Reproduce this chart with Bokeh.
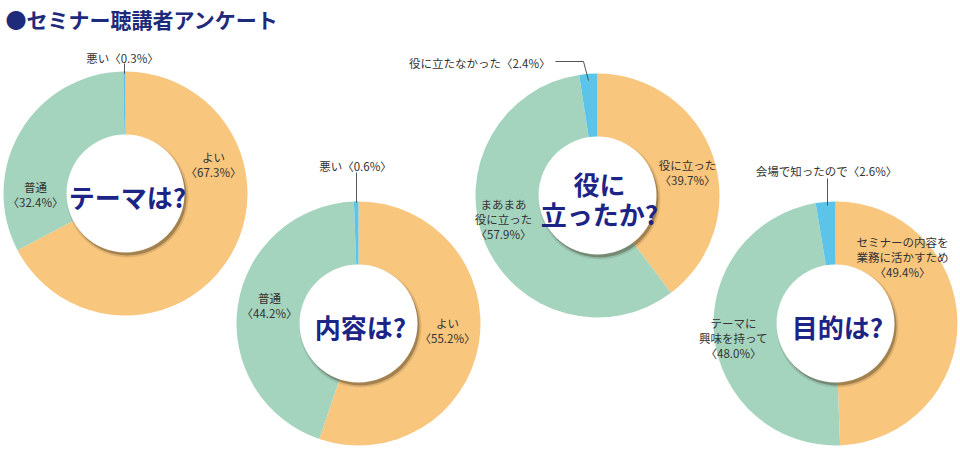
import numpy as np
from bokeh.plotting import figure
from bokeh.models import Range1d, ColumnDataSource
from bokeh.core.properties import value
from bokeh.embed import file_html
from bokeh.resources import INLINE

# ---------------- data ----------------
title = "●セミナー聴講者アンケート"
questions = ["テーマは?", "内容は?", "役に\n立ったか?", "目的は?"]

cat_theme = ["よい", "普通", "悪い"]
val_theme = [67.3, 32.4, 0.3]
cat_content = ["よい", "普通", "悪い"]
val_content = [55.2, 44.2, 0.6]
cat_useful = ["役に立った", "まあまあ\n役に立った", "役に立たなかった"]
val_useful = [39.7, 57.9, 2.4]
cat_purpose = ["セミナーの内容を\n業務に活かすため", "テーマに\n興味を持って", "会場で知ったので"]
val_purpose = [49.4, 48.0, 2.6]

slice_colors = ["#F8C67D", "#A5D4BE", "#5BC4E8"]

# ---------------- layout (image coordinates, y downward) ----------------
H = 452
FONT = value("Noto Sans CJK JP")
NAVY = "#1E2A7A"
QNAVY = "#1C2486"
LABEL = "#333333"
R_OUT, R_IN = 122, 59
LS = 15  # label line spacing

charts = [
    dict(cats=cat_theme, vals=val_theme, c=(125, 193),
         lab=[(213, 164, "center"), (35, 194, "center"), (122, 57, "center")],
         leader=[(124, 63), (124, 73)], q=questions[0]),
    dict(cats=cat_content, vals=val_content, c=(358, 323),
         lab=[(447, 330, "center"), (269, 305, "center"), (355, 165, "center")],
         leader=[(356, 172), (356, 202)], q=questions[1]),
    dict(cats=cat_useful, vals=val_useful, c=(597, 195),
         lab=[(687, 172, "center"), (503, 218, "center"), (550, 62, "right")],
         leader=[(555, 61), (583, 61), (588, 80)], q=questions[2]),
    dict(cats=cat_purpose, vals=val_purpose, c=(835, 323),
         lab=[(902, 256, "center"), (733, 337, "center"), (826, 170, "center")],
         leader=[(827, 178), (827, 205)], q=questions[3]),
]

p = figure(width=960, height=452, output_backend="svg", toolbar_location=None,
           x_range=Range1d(0, 960), y_range=Range1d(0, 452),
           x_axis_type=None, y_axis_type=None, min_border=0)
p.outline_line_color = None
p.background_fill_color = "white"
p.border_fill_color = "white"


def T(x, y, s, size, color, align="center", style="normal"):
    p.text(x=[x], y=[H - y], text=[s], text_font=FONT, text_font_size=size,
           text_color=color, text_align=align, text_baseline="middle",
           text_font_style=style)


T(5, 18, title, "21px", NAVY, "left", "bold")

for ch in charts:
    cx, cy = ch["c"]
    vals = np.array(ch["vals"], dtype=float)
    frac = vals / vals.sum()
    cum = np.concatenate([[0], np.cumsum(frac)])
    start = np.pi / 2 - 2 * np.pi * cum[1:]
    end = np.pi / 2 - 2 * np.pi * cum[:-1]
    src = ColumnDataSource(dict(start=start, end=end, color=slice_colors))
    p.annular_wedge(x=cx, y=H - cy, inner_radius=R_IN - 2, outer_radius=R_OUT,
                    start_angle="start", end_angle="end", direction="anticlock",
                    fill_color="color", line_color=None, source=src)
    # hole shadow
    p.circle(x=[cx + 2], y=[H - cy - 3], radius=R_IN + 2, fill_color="#000000",
             fill_alpha=0.10, line_color=None)
    p.circle(x=[cx + 2], y=[H - cy - 3], radius=R_IN, fill_color="#3a2a10",
             fill_alpha=0.35, line_color=None)
    p.circle(x=[cx], y=[H - cy], radius=R_IN, fill_color="white", line_color=None)

    # center question
    qlines = ch["q"].split("\n")
    n = len(qlines)
    for i, ln in enumerate(qlines):
        T(cx + 2, cy + 3 + (i - (n - 1) / 2) * 30, ln, "26px", QNAVY, "center", "bold")

    # labels
    for k, (lx, ly, al) in enumerate(ch["lab"]):
        pct = f"〈{ch['vals'][k]:.1f}%〉"
        if k == 2:
            lines = [ch["cats"][k] + pct]
        else:
            lines = ch["cats"][k].split("\n") + [pct]
        n = len(lines)
        for i, ln in enumerate(lines):
            T(lx, ly + (i - (n - 1) / 2) * LS, ln, "11.5px", LABEL, al)

    xs = [pt[0] for pt in ch["leader"]]
    ys = [H - pt[1] for pt in ch["leader"]]
    p.line(xs, ys, line_color="#555555", line_width=1)

open("out.html", "w").write(file_html(p, INLINE))
